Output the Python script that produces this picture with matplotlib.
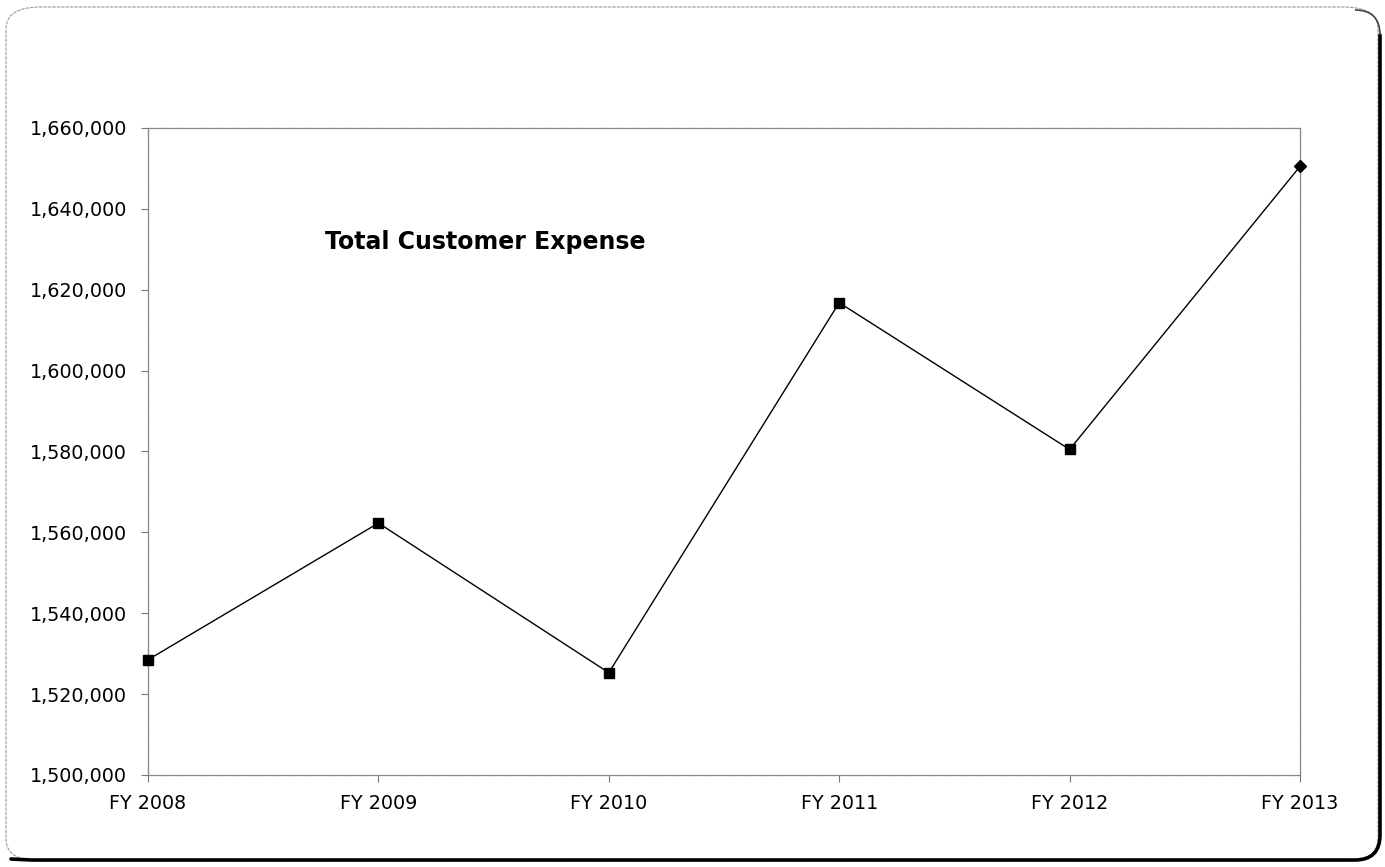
import matplotlib
matplotlib.use("Agg")
import matplotlib.pyplot as plt
from matplotlib.patches import FancyBboxPatch, PathPatch
from matplotlib.path import Path
import numpy as np

categories = ["FY 2008", "FY 2009", "FY 2010", "FY 2011", "FY 2012", "FY 2013"]
values = [1528500, 1562300, 1525300, 1616800, 1580500, 1650500]
markers = ["s", "s", "s", "s", "s", "D"]
y_ticks = [1500000, 1520000, 1540000, 1560000, 1580000, 1600000, 1620000, 1640000, 1660000]
title = "Total Customer Expense"

W, H = 1385, 867
fig = plt.figure(figsize=(W / 100, H / 100), dpi=100)
fig.patch.set_facecolor("white")

ax = fig.add_axes([148 / W, 1 - 775 / H, (1300 - 148) / W, (775 - 128) / H])
x = np.arange(len(categories))
ax.plot(x, values, color="black", lw=1.0, zorder=3)
for xi, yi, m in zip(x, values, markers):
    ax.plot([xi], [yi], marker=m, color="black", ms=7 if m == "s" else 6, zorder=4, clip_on=False)

ax.set_xlim(0, len(categories) - 1)
ax.set_ylim(y_ticks[0], y_ticks[-1])
ax.set_yticks(y_ticks)
ax.set_yticklabels([f"{v:,}" for v in y_ticks], fontsize=13.8)
ax.set_xticks(x)
ax.set_xticklabels(categories, fontsize=13.8)
ax.tick_params(axis="both", direction="out", length=5, width=0.8, color="#777777")
ax.tick_params(axis="y", pad=10)
ax.tick_params(axis="x", pad=9)
for s in ax.spines.values():
    s.set_color("#888888")
    s.set_linewidth(0.9)
    s.set_linestyle((0, (2, 0.5)))

fig.text(325 / W, 1 - 242 / H, title, fontsize=17, fontweight="bold", va="center", ha="left")

# outer rounded frame (light), plus heavier right/bottom edges
frame = FancyBboxPatch((6 / W, 6 / H), (1378 - 6) / W, (860 - 6) / H,
                       boxstyle="round,pad=0,rounding_size=0.025",
                       transform=fig.transFigure, fill=False,
                       edgecolor="#999999", lw=0.8, linestyle=(0, (3, 1)))
fig.add_artist(frame)

r = 25
x0, x1 = 6, 1380
y0, y1 = 860, 10  # pixel coords from top
def P(px, py):
    return (px / W, 1 - py / H)
verts = [P(x1, y1 + r), P(x1, y0 - r), P(x1, y0), P(x1 - r, y0), P(x0 + r, y0), P(x0 + r * 0.2, y0 - 1)]
codes = [Path.MOVETO, Path.LINETO, Path.CURVE3, Path.CURVE3, Path.LINETO, Path.LINETO]
pp = PathPatch(Path(verts, codes), transform=fig.transFigure, fill=False, edgecolor="black", lw=2.6, capstyle="round")
fig.add_artist(pp)
verts2 = [P(x1 - r, y1), P(x1, y1), P(x1, y1 + r)]
codes2 = [Path.MOVETO, Path.CURVE3, Path.CURVE3]
fig.add_artist(PathPatch(Path(verts2, codes2), transform=fig.transFigure, fill=False, edgecolor="#444444", lw=1.2))

fig.savefig("out.png", dpi=100, facecolor="white")
